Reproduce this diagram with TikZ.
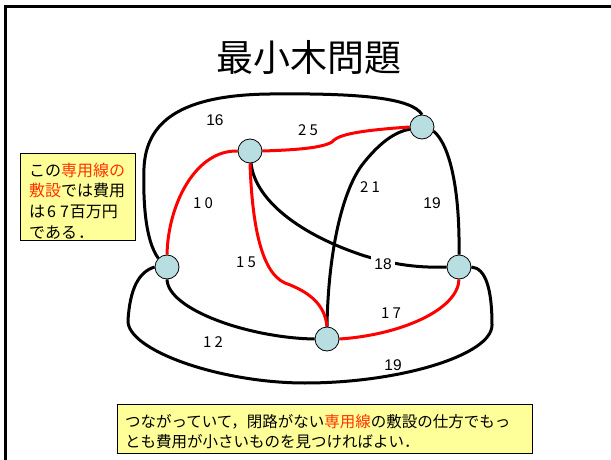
\documentclass[tikz,border=0pt]{standalone}
\usepackage{fontspec}
\newfontfamily\jp{Noto Sans CJK JP}
\newfontfamily\ar{Liberation Sans}
\definecolor{nodefill}{RGB}{185,222,225}
\definecolor{boxfill}{RGB}{255,255,153}
\definecolor{redtext}{RGB}{255,51,0}
\definecolor{rededge}{RGB}{255,0,0}
\pgfdeclarelayer{bg}
\pgfsetlayers{bg,main}
\begin{document}
\begin{tikzpicture}[x=1pt,y=-1pt,
 vtx/.style={circle, draw=black, line width=0.8pt, fill=nodefill, minimum size=24pt, inner sep=0pt},
 edge/.style={line width=3pt, black},
 tree/.style={line width=3pt, rededge},
 wlab/.style={font=\jp\fontsize{15}{15}\selectfont, inner sep=1pt},
 alab/.style={font=\ar\fontsize{15.5}{15.5}\selectfont, inner sep=1pt},
 note/.style={draw=black, line width=1pt, fill=boxfill, inner sep=0pt}]
\useasboundingbox (0,0) rectangle (611,460);
% vertices
\node[vtx] (A) at (167,267) {};
\node[vtx] (B) at (250,151) {};
\node[vtx] (C) at (422,127) {};
\node[vtx] (D) at (459,267) {};
\node[vtx] (E) at (327,339) {};
\begin{pgfonlayer}{bg}
\fill[white] (0,0) rectangle (611,460);
\begin{scope}
\clip (0,0) rectangle (611,460);
\draw[line width=3pt] (620,7) -- (5,7) -- (5,470);
\end{scope}
% black edges
\draw[edge] (A.north west) .. controls (145,240) and (143,200) .. (144,168)
  .. controls (146,122) and (180,95) .. (270,94)
  .. controls (360,93) and (412,98) .. (C.north);
\draw[edge] (A.west) .. controls (138,272) and (130,290) .. (128,320)
  .. controls (126,350) and (220,383) .. (305,383)
  .. controls (400,383) and (492,355) .. (492,325)
  .. controls (492,290) and (486,268) .. (D.east);
\draw[edge] (B.-85) .. controls (255,200) and (300,235) .. (365,256)
  .. controls (395,265) and (420,268) .. (D.west);
\draw[edge] (E.north) .. controls (328,260) and (340,195) .. (362,165)
  .. controls (380,142) and (395,132) .. (C.190);
\draw[edge] (C.-20) .. controls (450,145) and (460,190) .. (D.north);
\draw[edge] (A.south) .. controls (168,310) and (250,338) .. (E.west);
% tree edges
\draw[tree] (A.north) .. controls (168,205) and (195,150) .. (B.west);
\draw[tree] (B.east) .. controls (295,150) and (322,148) .. (332,142)
  .. controls (337,136) and (350,131) .. (C.west);
\draw[tree] (B.south) .. controls (252,220) and (260,272) .. (285,283)
  .. controls (310,292) and (325,305) .. (E.north);
\draw[tree] (E.east) .. controls (400,335) and (458,310) .. (D.south);
\end{pgfonlayer}
% title
\node[font=\jp\fontsize{37}{37}\selectfont] (title) at (309,58) {最小木問題};
% edge labels
\node[alab] (l16) at (215,120) {16};
\node[wlab] (l25) at (308,130) {2\hspace{3pt}5};
\node[wlab] (l10) at (203,203) {1\hspace{3pt}0};
\node[wlab] (l15) at (246,262) {1\hspace{3pt}5};
\node[wlab, fill=white, inner sep=2pt] (l21) at (370,187) {2\hspace{3pt}1};
\node[alab] (l19a) at (432,203) {19};
\node[alab, fill=white, inner sep=3pt] (l18) at (383,264) {18};
\node[wlab] (l17) at (391,313) {1\hspace{3pt}7};
\node[wlab] (l12) at (213,342) {1\hspace{3pt}2};
\node[alab] (l19b) at (393,365) {19};
% notes
\node[note, minimum width=115pt, minimum height=87pt, anchor=north west] (note1) at (20,153) {};
\node[anchor=west, font=\jp\fontsize{16}{20.7}\selectfont, align=left, inner sep=0pt] (note1txt) at (29,201)
  {この{\color{redtext}専用線の}\\{\color{redtext}敷設}では費用\\は\hspace{2pt}6\hspace{4pt}7\hspace{1pt}百万円\\である\hspace{1pt}．};
\node[note, minimum width=415pt, minimum height=49pt, anchor=north west] (note2) at (117,404) {};
\node[anchor=west, font=\jp\fontsize{15.5}{20}\selectfont, align=left, inner sep=0pt] (note2txt) at (125,432)
  {つながっていて，閉路がない{\color{redtext}専用線}の敷設の仕方でもっ\\とも費用が小さいものを見つければよい．};
\end{tikzpicture}
\end{document}
